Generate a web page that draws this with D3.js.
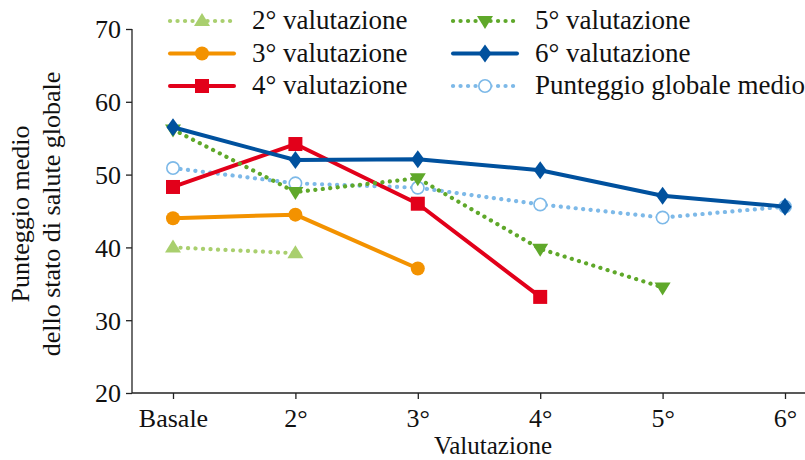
<!DOCTYPE html>
<html>
<head>
<meta charset="utf-8">
<script src="https://cdn.jsdelivr.net/npm/d3@7"></script>
<style>
  body { margin: 0; background: #fff; }
</style>
</head>
<body>
<div id="chart"></div>
<script>
// data
const categories = ["Basale", "2°", "3°", "4°", "5°", "6°"];
const yTicks = [20, 30, 40, 50, 60, 70];
const seriesNames = ["2° valutazione", "3° valutazione", "4° valutazione",
                     "5° valutazione", "6° valutazione", "Punteggio globale medio"];
const val2 = [40.0, 39.2];
const val3 = [44.0, 44.5, 37.1];
const val4 = [48.3, 54.2, 46.0, 33.2];
const val5 = [56.2, 47.6, 49.5, 39.8, 34.5];
const val6 = [56.5, 52.0, 52.1, 50.6, 47.1, 45.6];
const valGlobal = [50.9, 48.8, 48.2, 45.9, 44.1, 45.6];

const width = 805, height = 460;
const margin = { left: 132, right: 20, top: 29, bottom: 67 };
const FONT = "Liberation Serif";
const FS = 26;

// style per series (same order as seriesNames)
const styles = [
  { color: "#a9cf6e", symbol: "tri-up", dotted: true },
  { color: "#f39200", symbol: "circle", dotted: false },
  { color: "#e2001a", symbol: "square", dotted: false },
  { color: "#5fa82a", symbol: "tri-down", dotted: true },
  { color: "#00519e", symbol: "diamond", dotted: false },
  { color: "#7db9e8", symbol: "open", dotted: true }
];
const seriesValues = [val2, val3, val4, val5, val6, valGlobal];

const svg = d3.select("#chart").append("svg")
  .attr("width", width)
  .attr("height", height)
  .attr("font-family", FONT);

const x = d3.scalePoint()
  .domain(categories)
  .range([173, 785]);

const y = d3.scaleLinear()
  .domain([20, 70])
  .range([height - margin.bottom, margin.top]);

// axes
const yAxis = svg.append("g")
  .attr("transform", `translate(${margin.left},0)`)
  .call(d3.axisLeft(y).tickValues(yTicks).tickSize(6).tickPadding(5));
yAxis.select(".domain").attr("d", `M0,${y(70)}V${y(20)}`);

const xAxis = svg.append("g")
  .attr("transform", `translate(0,${y(20)})`)
  .call(d3.axisBottom(x).tickSize(6).tickPadding(0));
xAxis.select(".domain").attr("d", `M${margin.left},0H${width}`);
xAxis.selectAll(".tick text").attr("y", 34).attr("dy", 0);

svg.selectAll(".tick text")
  .attr("font-family", FONT)
  .attr("font-size", FS)
  .attr("fill", "#111");
yAxis.selectAll(".tick text").attr("dy", "0.34em");
svg.selectAll("g").attr("font-family", FONT);
svg.selectAll(".domain, .tick line").attr("stroke", "#222").attr("stroke-width", 1.3);

// axis titles
svg.append("text")
  .attr("x", 493)
  .attr("y", 454)
  .attr("text-anchor", "middle")
  .attr("font-family", FONT)
  .attr("font-size", 25)
  .attr("fill", "#111")
  .text("Valutazione");

const yTitle = svg.append("text")
  .attr("transform", "translate(29,214) rotate(-90)")
  .attr("text-anchor", "middle")
  .attr("font-family", FONT)
  .attr("font-size", FS)
  .attr("fill", "#111");
yTitle.append("tspan").attr("x", 0).attr("dy", 0).text("Punteggio medio");
yTitle.append("tspan").attr("x", 0).attr("dy", 31).text("dello stato di salute globale");

function drawMarker(g, st, cx, cy) {
  if (st.symbol === "circle") {
    g.append("circle").attr("cx", cx).attr("cy", cy).attr("r", 7).attr("fill", st.color);
  } else if (st.symbol === "open") {
    g.append("circle").attr("cx", cx).attr("cy", cy).attr("r", 6.2)
      .attr("fill", "#fff").attr("stroke", st.color).attr("stroke-width", 1.6);
  } else if (st.symbol === "square") {
    g.append("rect").attr("x", cx - 7).attr("y", cy - 7).attr("width", 14).attr("height", 14)
      .attr("fill", st.color);
  } else if (st.symbol === "diamond") {
    g.append("path").attr("d", `M${cx},${cy - 9}L${cx + 6.5},${cy}L${cx},${cy + 9}L${cx - 6.5},${cy}Z`)
      .attr("fill", st.color);
  } else if (st.symbol === "tri-up") {
    g.append("path").attr("d", `M${cx},${cy - 8}L${cx + 8},${cy + 5}L${cx - 8},${cy + 5}Z`)
      .attr("fill", st.color);
  } else if (st.symbol === "tri-down") {
    g.append("path").attr("d", `M${cx},${cy + 8}L${cx + 8},${cy - 5}L${cx - 8},${cy - 5}Z`)
      .attr("fill", st.color);
  }
}

function styleLine(path, st) {
  path.attr("fill", "none")
    .attr("stroke", st.color)
    .attr("stroke-width", st.dotted ? 4.2 : 4)
    .attr("stroke-linecap", "round")
    .attr("stroke-linejoin", "round");
  if (st.dotted) path.attr("stroke-dasharray", "0.1 7.4");
}

const line = d3.line()
  .x((d, i) => x(categories[i]))
  .y(d => y(d));

// draw order: global first, then 2° .. 6°
const order = [5, 0, 1, 2, 3, 4];
order.forEach(k => {
  const st = styles[k];
  const vals = seriesValues[k];
  const g = svg.append("g").attr("class", "series");
  styleLine(g.append("path").attr("d", line(vals)), st);
  vals.forEach((v, i) => drawMarker(g, st, x(categories[i]), y(v)));
});

// legend, two columns of three
const legend = svg.append("g").attr("class", "legend");
seriesNames.forEach((name, i) => {
  const col = Math.floor(i / 3);
  const row = i % 3;
  const lx = col === 0 ? 170 : 453;
  const ly = 21 + row * 32.5;
  const st = styles[i];
  const g = legend.append("g");
  styleLine(g.append("path").attr("d", `M${lx},${ly}H${lx + 64}`), st);
  drawMarker(g, st, lx + 32, ly);
  g.append("text")
    .attr("x", lx + 82)
    .attr("y", ly + 8)
    .attr("font-family", FONT)
    .attr("font-size", 27)
    .attr("fill", "#111")
    .text(name);
});
</script>
</body>
</html>
